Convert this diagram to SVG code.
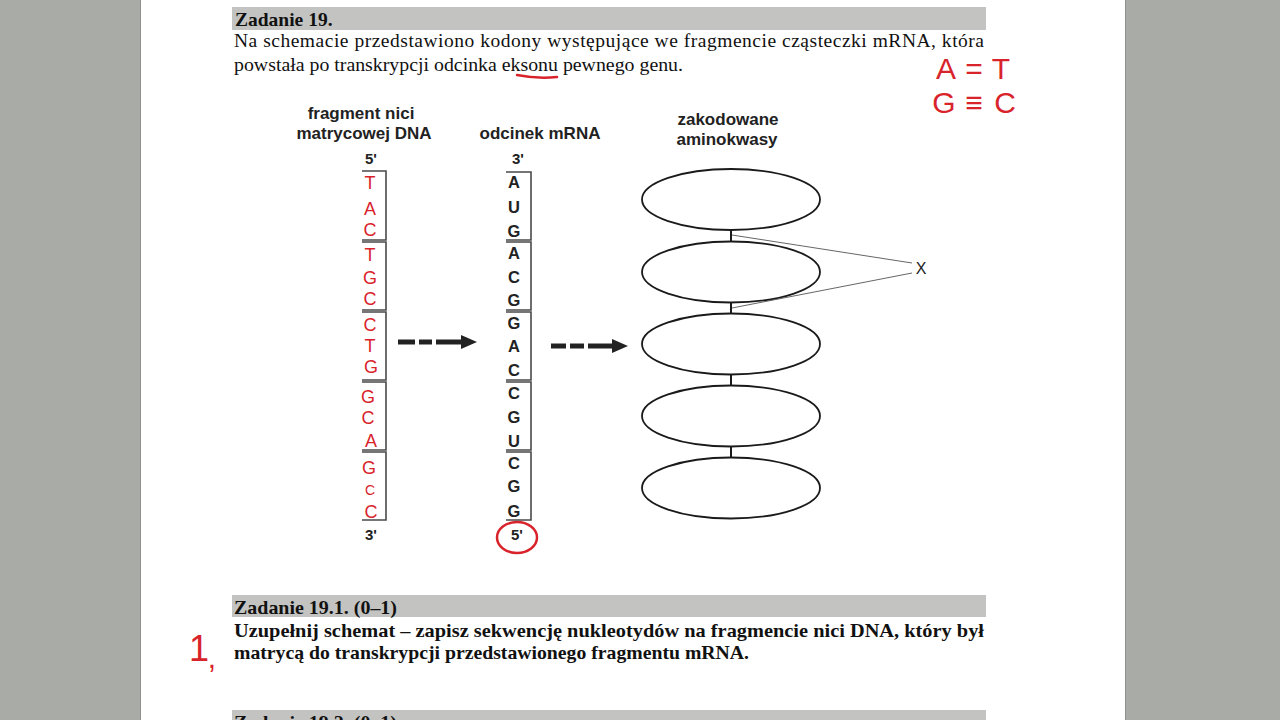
<svg xmlns="http://www.w3.org/2000/svg" width="1280" height="720" viewBox="0 0 1280 720">
<style>
.serif{font-family:"Liberation Serif","Times New Roman",serif;fill:#111}
.sans{font-family:"Liberation Sans",Arial,sans-serif;fill:#222}
.hdr{font-size:17px;font-weight:bold;text-anchor:middle}
.end{font-size:15px;font-weight:bold;text-anchor:middle}
.base{font-size:16.5px;font-weight:bold;text-anchor:middle}
.red{font-family:"Liberation Sans",Arial,sans-serif;fill:#d9232b;text-anchor:middle}
.box{fill:none;stroke:#4a4a4a;stroke-width:1.6}
.bar{fill:#c3c4c2}
.amino{fill:#fff;stroke:#1a1a1a;stroke-width:1.8}
.link{stroke:#1a1a1a;stroke-width:2}
.lead{stroke:#666;stroke-width:1}
.dash{stroke:#222;stroke-width:5}
.ink{fill:none;stroke:#d9232b;stroke-width:2.5;stroke-linecap:round}
</style>
<defs>
<marker id="head" viewBox="0 0 16 14" markerWidth="16" markerHeight="14" refX="1" refY="7" orient="auto" markerUnits="userSpaceOnUse">
<path d="M0,0 L16,7 L0,14 Z" fill="#222"/>
</marker>
</defs>

<!-- page -->
<rect x="0" y="0" width="1280" height="720" fill="#a8aba6"/>
<rect x="141" y="0" width="984" height="720" fill="#ffffff"/>
<line x1="140.5" y1="0" x2="140.5" y2="720" stroke="#8e918c"/>
<line x1="1125.5" y1="0" x2="1125.5" y2="720" stroke="#8e918c"/>

<!-- task header -->
<g id="task19">
<rect class="bar" x="232" y="7" width="754" height="23"/>
<text class="serif" x="235" y="26" font-size="19.5" font-weight="bold">Zadanie 19.</text>
<text class="serif" x="234" y="47" font-size="19.5" textLength="750" lengthAdjust="spacing">Na schemacie przedstawiono kodony występujące we fragmencie cząsteczki mRNA, która</text>
<text class="serif" x="234" y="71" font-size="19.5" textLength="449" lengthAdjust="spacingAndGlyphs">powstała po transkrypcji odcinka eksonu pewnego genu.</text>
<path class="ink" d="M517,75 Q537,79 557,77"/>
</g>

<g id="pairing-note">
<text class="red" font-size="30" x="946 974 1001" y="79">A=T</text>
<text class="red" font-size="30" x="944 974 1005" y="113">G≡C</text>
</g>

<!-- column labels -->
<g id="label-dna">
<text class="sans hdr" x="361" y="119">fragment nici</text>
<text class="sans hdr" x="364" y="139">matrycowej DNA</text>
</g>
<g id="label-mrna">
<text class="sans hdr" x="540" y="139">odcinek mRNA</text>
</g>
<g id="label-amino">
<text class="sans hdr" x="728" y="125">zakodowane</text>
<text class="sans hdr" x="727" y="145">aminokwasy</text>
</g>

<!-- DNA strand -->
<g id="dna-strand">
<text class="sans end" x="371" y="164">5'</text>
<text class="sans end" x="371" y="540">3'</text>
<path class="box" d="M362,171 H386 V240 H362"/>
<path class="box" d="M362,242 H386 V310 H362"/>
<path class="box" d="M362,312 H386 V380 H362"/>
<path class="box" d="M362,382 H386 V450 H362"/>
<path class="box" d="M362,452 H386 V520 H362"/>
<g class="red" font-size="18">
<text x="370" y="188.5">T</text>
<text x="370" y="214.5">A</text>
<text x="370" y="235.5">C</text>
<text x="370" y="260.5">T</text>
<text x="370" y="283.5">G</text>
<text x="370" y="304.5">C</text>
<text x="370" y="330.5">C</text>
<text x="370" y="351.5">T</text>
<text x="371" y="372.5">G</text>
<text x="368" y="402.5">G</text>
<text x="368" y="423.5">C</text>
<text x="371" y="446.5">A</text>
<text x="369" y="473.5">G</text>
<text x="370" y="495" font-size="14">C</text>
<text x="371" y="517.5">C</text>
</g>
</g>

<!-- mRNA strand -->
<g id="mrna-strand">
<text class="sans end" x="518" y="164">3'</text>
<text class="sans end" x="517" y="540">5'</text>
<ellipse cx="517" cy="537.5" rx="20" ry="15.5" class="ink"/>
<path class="box" d="M506,172 H531 V240 H506"/>
<path class="box" d="M506,242 H531 V310 H506"/>
<path class="box" d="M506,312 H531 V380 H506"/>
<path class="box" d="M506,382 H531 V450 H506"/>
<path class="box" d="M506,452 H531 V520 H506"/>
<g class="sans base">
<text x="514" y="188">A</text>
<text x="514" y="213">U</text>
<text x="514" y="237">G</text>
<text x="514" y="259">A</text>
<text x="514" y="283">C</text>
<text x="514" y="306">G</text>
<text x="514" y="329">G</text>
<text x="514" y="352">A</text>
<text x="514" y="376">C</text>
<text x="514" y="399">C</text>
<text x="514" y="423">G</text>
<text x="514" y="447">U</text>
<text x="514" y="469">C</text>
<text x="514" y="492">G</text>
<text x="514" y="517">G</text>
</g>
</g>

<!-- amino acids -->
<g id="aa1"><ellipse class="amino" cx="731" cy="199.5" rx="89" ry="30.5"/></g>
<g id="aa2"><ellipse class="amino" cx="731" cy="272" rx="89" ry="30.5"/></g>
<g id="aa3"><ellipse class="amino" cx="731" cy="344" rx="89" ry="30.5"/></g>
<g id="aa4"><ellipse class="amino" cx="731" cy="416" rx="89" ry="30.5"/></g>
<g id="aa5"><ellipse class="amino" cx="731" cy="488" rx="89" ry="30.5"/></g>
<g id="label-x"><text class="sans" x="921" y="274" font-size="16" text-anchor="middle">X</text></g>

<!-- connectors -->
<g id="connectors">
<line class="dash" x1="398" y1="342" x2="415" y2="342"/>
<line class="dash" x1="419" y1="342" x2="432" y2="342"/>
<line class="dash" x1="436" y1="342" x2="462" y2="342" marker-end="url(#head)"/>
<line class="dash" x1="551" y1="346" x2="566" y2="346"/>
<line class="dash" x1="570" y1="346" x2="584" y2="346"/>
<line class="dash" x1="588" y1="346" x2="613" y2="346" marker-end="url(#head)"/>
<line class="link" x1="731" y1="230" x2="731" y2="241.5"/>
<line class="link" x1="731" y1="302.5" x2="731" y2="313.5"/>
<line class="link" x1="731" y1="374.5" x2="731" y2="385.5"/>
<line class="link" x1="731" y1="446.5" x2="731" y2="457.5"/>
<line class="lead" x1="732" y1="235" x2="912" y2="263"/>
<line class="lead" x1="732" y1="308" x2="912" y2="273"/>
</g>

<!-- task 19.1 -->
<g id="task19-1">
<rect class="bar" x="232" y="595" width="754" height="22"/>
<text class="serif" x="234" y="614" font-size="19.5" font-weight="bold" textLength="163" lengthAdjust="spacingAndGlyphs">Zadanie 19.1. (0–1)</text>
<text class="serif" x="234" y="637" font-size="19.5" font-weight="bold" textLength="750" lengthAdjust="spacingAndGlyphs">Uzupełnij schemat – zapisz sekwencję nukleotydów na fragmencie nici DNA, który był</text>
<text class="serif" x="234" y="659" font-size="19.5" font-weight="bold" textLength="515" lengthAdjust="spacingAndGlyphs">matrycą do transkrypcji przedstawionego fragmentu mRNA.</text>
<text class="red" x="199" y="661" font-size="36">1</text>
<text class="red" x="212" y="668" font-size="30">,</text>
</g>

<!-- task 19.2 (cut off at page bottom, as in the reference) -->
<g id="task19-2">
<rect class="bar" x="232" y="710" width="754" height="22"/>
<text class="serif" x="234" y="729" font-size="19.5" font-weight="bold" textLength="163" lengthAdjust="spacingAndGlyphs">Zadanie 19.2. (0–1)</text>
</g>
</svg>
